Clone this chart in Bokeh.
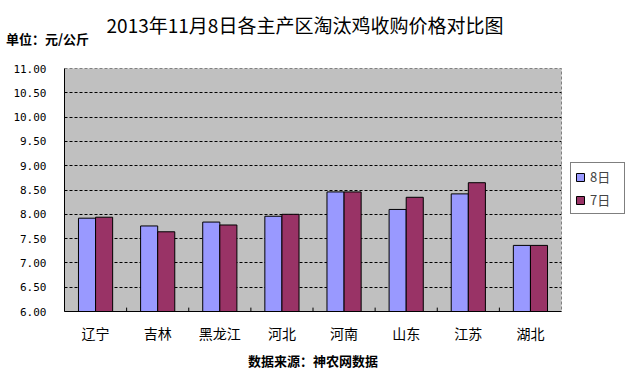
from bokeh.plotting import figure
from bokeh.models import ColumnDataSource, Legend, LegendItem, FixedTicker, FactorRange, Div
from bokeh.layouts import column, row
from bokeh.transform import dodge
from bokeh.embed import file_html
from bokeh.resources import INLINE

regions = ["辽宁", "吉林", "黑龙江", "河北", "河南", "山东", "江苏", "湖北"]
price_8 = [7.92, 7.76, 7.84, 7.96, 8.46, 8.10, 8.42, 7.36]
price_7 = [7.94, 7.64, 7.78, 8.00, 8.46, 8.35, 8.65, 7.36]
series_names = ["8日", "7日"]
series_colors = ["#9999FF", "#993366"]
y_ticks = [6.0, 6.5, 7.0, 7.5, 8.0, 8.5, 9.0, 9.5, 10.0, 10.5, 11.0]
title_text = "2013年11月8日各主产区淘汰鸡收购价格对比图"
unit_text = "单位：元/公斤"
source_text = "数据来源：神农网数据"

CJK = "Noto Sans CJK SC"

src = ColumnDataSource(dict(cat=regions, p8=price_8, p7=price_7))
bsrc = ColumnDataSource(dict(cat=regions[:-1], y0=[6.0] * 7, y1=[6.08] * 7))

header_html = (
    '<div style="position:relative;width:628px;height:60px;margin:0;padding:0;">'
    f'<span style="position:absolute;left:0;width:610px;top:14px;text-align:center;'
    f'font-family:\'{CJK}\';font-size:19px;line-height:22px;color:black;white-space:nowrap;">{title_text}</span>'
    f'<span style="position:absolute;left:6px;top:31px;'
    f'font-family:\'{CJK}\';font-size:13px;font-weight:bold;line-height:16px;color:black;white-space:nowrap;">{unit_text}</span>'
    '</div>'
)
header = Div(text=header_html, width=628, height=60, margin=0)

p = figure(x_range=FactorRange(*regions), y_range=(6, 11), title=None,
           width=562, height=312, output_backend="svg", toolbar_location=None,
           min_border_left=64, min_border_right=1, min_border_top=8, min_border_bottom=61)

p.background_fill_color = "#C0C0C0"
p.border_fill_color = "white"
p.outline_line_color = "#808080"
p.outline_line_dash = "3 2"

bw = 0.275
p.vbar(x=dodge("cat", -bw / 2, range=p.x_range), top="p8", bottom=6, width=bw,
       source=src, fill_color=series_colors[0], line_color="black", line_width=1)
p.vbar(x=dodge("cat", bw / 2, range=p.x_range), top="p7", bottom=6, width=bw,
       source=src, fill_color=series_colors[1], line_color="black", line_width=1)

# tick marks at category boundaries
p.segment(x0=dodge("cat", 0.5, range=p.x_range), y0="y0",
          x1=dodge("cat", 0.5, range=p.x_range), y1="y1",
          source=bsrc, line_color="black", line_width=1)

p.xgrid.grid_line_color = None
p.ygrid.ticker = FixedTicker(ticks=y_ticks)
p.ygrid.grid_line_color = "black"
p.ygrid.grid_line_dash = "3 2"
p.ygrid.grid_line_width = 1

p.yaxis.ticker = FixedTicker(ticks=y_ticks)
p.yaxis.major_label_overrides = {t: f"{t:.2f}" for t in y_ticks}
p.yaxis.major_tick_line_color = None
p.yaxis.major_tick_out = 0
p.yaxis.major_tick_in = 0
p.yaxis.minor_tick_line_color = None
p.yaxis.major_label_standoff = 18
p.yaxis.major_label_text_font = "DejaVu Sans Mono"
p.yaxis.major_label_text_font_size = "11px"
p.yaxis.major_label_text_color = "black"
p.yaxis.axis_line_color = "black"

p.xaxis.major_tick_line_color = None
p.xaxis.major_tick_out = 0
p.xaxis.major_tick_in = 0
p.xaxis.minor_tick_line_color = None
p.xaxis.major_label_standoff = 11
p.xaxis.major_label_text_font = CJK
p.xaxis.major_label_text_font_size = "14px"
p.xaxis.major_label_text_color = "black"
p.xaxis.axis_line_color = "black"
p.xaxis.axis_label = source_text
p.xaxis.axis_label_text_font = CJK
p.xaxis.axis_label_text_font_size = "13px"
p.xaxis.axis_label_text_font_style = "bold"
p.xaxis.axis_label_standoff = 5
p.xaxis.axis_label_text_color = "black"

# legend panel (separate canvas to the right of the plot area);
# its glyphs use the real data but lie outside this panel's ranges, so only the legend shows
lf = figure(width=66, height=312, x_range=(0, 1), y_range=(0, 1), title=None,
            output_backend="svg", toolbar_location=None, min_border=0,
            x_axis_type=None, y_axis_type=None)
lf.outline_line_color = None
lf.background_fill_color = "white"
lf.border_fill_color = "white"
lf.xgrid.grid_line_color = None
lf.ygrid.grid_line_color = None
l8 = lf.vbar(x="p8", top="p8", width=0.1, source=src,
             fill_color=series_colors[0], line_color="black")
l7 = lf.vbar(x="p7", top="p7", width=0.1, source=src,
             fill_color=series_colors[1], line_color="black")

legend = Legend(items=[LegendItem(label=series_names[0], renderers=[l8], index=0),
                       LegendItem(label=series_names[1], renderers=[l7], index=0)],
                location=(8, 97))
legend.border_line_color = "black"
legend.border_line_width = 1
legend.background_fill_color = "white"
legend.background_fill_alpha = 1
legend.label_text_font = CJK
legend.label_text_font_size = "13px"
legend.glyph_width = 10
legend.glyph_height = 10
legend.padding = 4
legend.spacing = 4
legend.label_standoff = 5
legend.label_height = 14
legend.label_width = 30
legend.margin = 0
lf.add_layout(legend, "center")

layout = column(header, row(p, lf, spacing=0), spacing=0)
open("out.html", "w").write(file_html(layout, INLINE))
